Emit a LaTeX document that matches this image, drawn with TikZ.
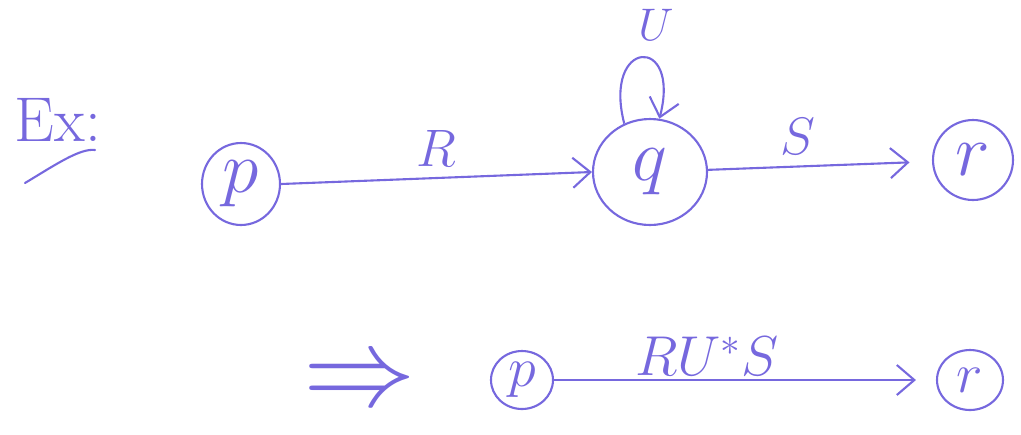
\RequirePackage{fix-cm}
\documentclass[tikz,border=0pt]{standalone}
\usepackage{amsmath}
\usepackage{xcolor}
\usepackage{tikz}
\usetikzlibrary{arrows.meta,positioning,shapes.geometric}
\definecolor{pen}{RGB}{118,104,222}

\begin{document}
\begin{tikzpicture}[
  x=0.02cm, y=-0.02cm,
  line width=1.2pt, draw=pen, text=pen,
  state/.style={draw=pen, ellipse, inner sep=0pt, font=\fontsize{42}{42}\selectfont},
  lab/.style={font=\fontsize{30}{30}\selectfont, text=pen},
  ar/.style={-{Straight Barb[length=3.5mm,width=6mm]}, line width=1.2pt, draw=pen}
]
  \useasboundingbox (0,0) rectangle (1021,434);

  \node[font=\fontsize{36}{36}\selectfont] (ex) at (58,120) {Ex:};
  \coordinate (ul1) at (25,183);
  \coordinate (ul2) at (95,150);
  \draw[pen, line cap=round] (ul1) .. controls (55,165) and (80,148) .. (ul2);

  \node[state, minimum width=1.56cm, minimum height=1.64cm] (p) at (241,184) {$p$};
  \node[state, minimum width=2.28cm, minimum height=2.12cm] (q) at (650,172) {$q$};
  \node[state, minimum width=1.6cm, minimum height=1.6cm] (r) at (973,160) {$r$};

  \draw[ar] (p.east) -- (q.west) node[midway, above, lab, inner sep=6pt] (R) {$R$};
  \draw[ar, shorten >=0.45cm] (q) -- (r) node[pos=0.4, above, lab, inner sep=6pt] (S) {$S$};
  \draw[ar] (q.118) .. controls +(-22,-85) and +(22,-85) .. (q.80);
  \node[lab, font=\fontsize{26}{26}\selectfont] (U) at (656,25) {$U$};

  % bottom row
  \node[font=\fontsize{64}{64}\selectfont, text=pen] (imp) at (360,385) {$\Rightarrow$};
  \node[state, font=\fontsize{32}{32}\selectfont, minimum width=1.24cm, minimum height=1.16cm] (p2) at (522,380) {$p$};
  \node[state, font=\fontsize{32}{32}\selectfont, minimum width=1.32cm, minimum height=1.2cm] (r2) at (970,380) {$r$};
  \draw[ar, shorten >=0.4cm] (p2.east) -- (r2.west)
    node[pos=0.4, above, font=\fontsize{32}{32}\selectfont, text=pen, inner sep=2pt] (RUS) {$RU^{*}S$};
\end{tikzpicture}
\end{document}
